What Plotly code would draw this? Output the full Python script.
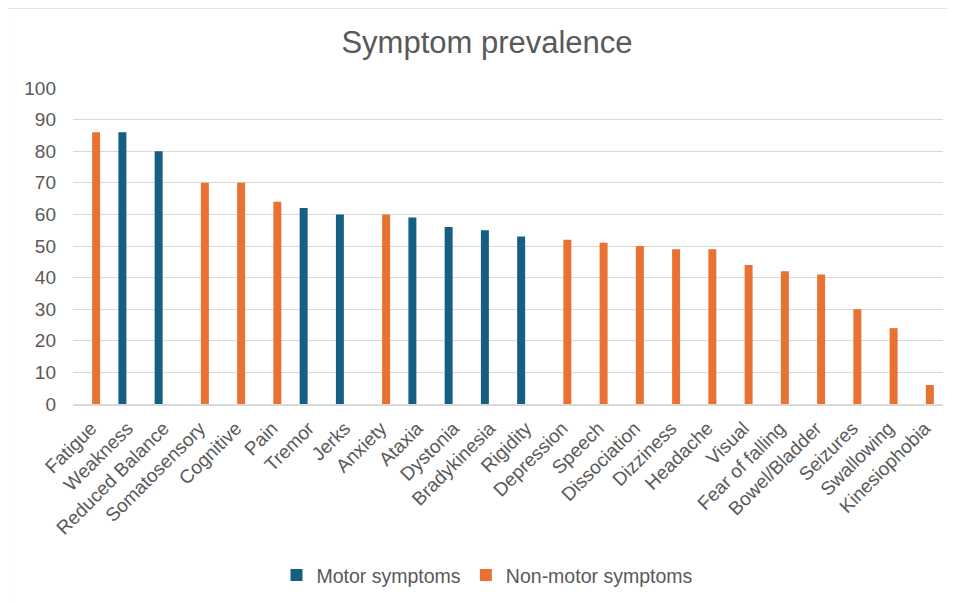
import plotly.graph_objects as go

categories = ["Fatigue", "Weakness", "Reduced Balance", "Somatosensory", "Cognitive", "Pain",
              "Tremor", "Jerks", "Anxiety", "Ataxia", "Dystonia", "Bradykinesia", "Rigidity",
              "Depression", "Speech", "Dissociation", "Dizziness", "Headache", "Visual",
              "Fear of falling", "Bowel/Bladder", "Seizures", "Swallowing", "Kinesiophobia"]

motor = [None, 86, 80, None, None, None, 62, 60, None, 59, 56, 55, 53,
         None, None, None, None, None, None, None, None, None, None, None]

non_motor = [86, None, None, 70, 70, 64, None, None, 60, None, None, None, None,
             52, 51, 50, 49, 49, 44, 42, 41, 30, 24, 6]

y_ticks = [0, 10, 20, 30, 40, 50, 60, 70, 80, 90, 100]

TEXT = "#595959"
GRID = "#D9D9D9"
FONT = "Liberation Sans, Arial, sans-serif"

fig = go.Figure()
fig.add_trace(go.Bar(x=categories, y=motor, name="Motor symptoms",
                     marker=dict(color="#156082", line=dict(width=0))))
fig.add_trace(go.Bar(x=categories, y=non_motor, name="Non-motor symptoms",
                     marker=dict(color="#E97132", line=dict(width=0))))

# page has an 8px body margin; figure coordinates are page coordinates minus 8
OFF = 8
PAGE_W, PAGE_H = 955, 602
W, H = PAGE_W - OFF, PAGE_H - OFF
L, T = 73 - OFF, 88 - OFF
R = W - (943 - OFF)
B = H - (404.5 - OFF)
pw = W - L - R
ph = H - T - B

def px_x(p):
    return (p - OFF - L) / pw

def px_y(p):
    return (H - B - (p - OFF)) / ph

fig.update_layout(
    width=W, height=H,
    margin=dict(l=L, r=R, t=T, b=B, pad=0, autoexpand=False),
    paper_bgcolor="white", plot_bgcolor="white",
    font=dict(family=FONT, color=TEXT, size=19),
    title=dict(text="Symptom prevalence", x=(487 - OFF) / W, xanchor="center",
               y=1 - (42 - OFF) / H, yanchor="middle", automargin=False,
               font=dict(size=31, color=TEXT, family=FONT)),
    barmode="group", bargap=0.45, bargroupgap=0.2,
    showlegend=True,
    legend=dict(orientation="h", x=px_x(487), xanchor="center",
                y=px_y(576), yanchor="middle",
                font=dict(size=19.5, color=TEXT, family=FONT),
                itemwidth=30, traceorder="normal"),
    xaxis=dict(tickangle=-45, showgrid=False, showline=True, linecolor=GRID,
               linewidth=1.5, ticks="", tickfont=dict(size=19, color=TEXT),
               ticklabelstandoff=4, automargin=False),
    yaxis=dict(range=[0, 100], tickvals=y_ticks, showgrid=True, gridcolor=GRID,
               gridwidth=1.3, zeroline=False, showline=False, ticks="",
               tickfont=dict(size=19, color=TEXT), ticklabelstandoff=16,
               automargin=False),
    shapes=[dict(type="rect", xref="paper", yref="paper",
                 x0=px_x(7.5), x1=px_x(PAGE_W + 20), y0=px_y(PAGE_H + 20), y1=px_y(8),
                 line=dict(color=GRID, width=1.2), fillcolor="rgba(0,0,0,0)",
                 layer="below")],
)

fig.write_html("out.html")
